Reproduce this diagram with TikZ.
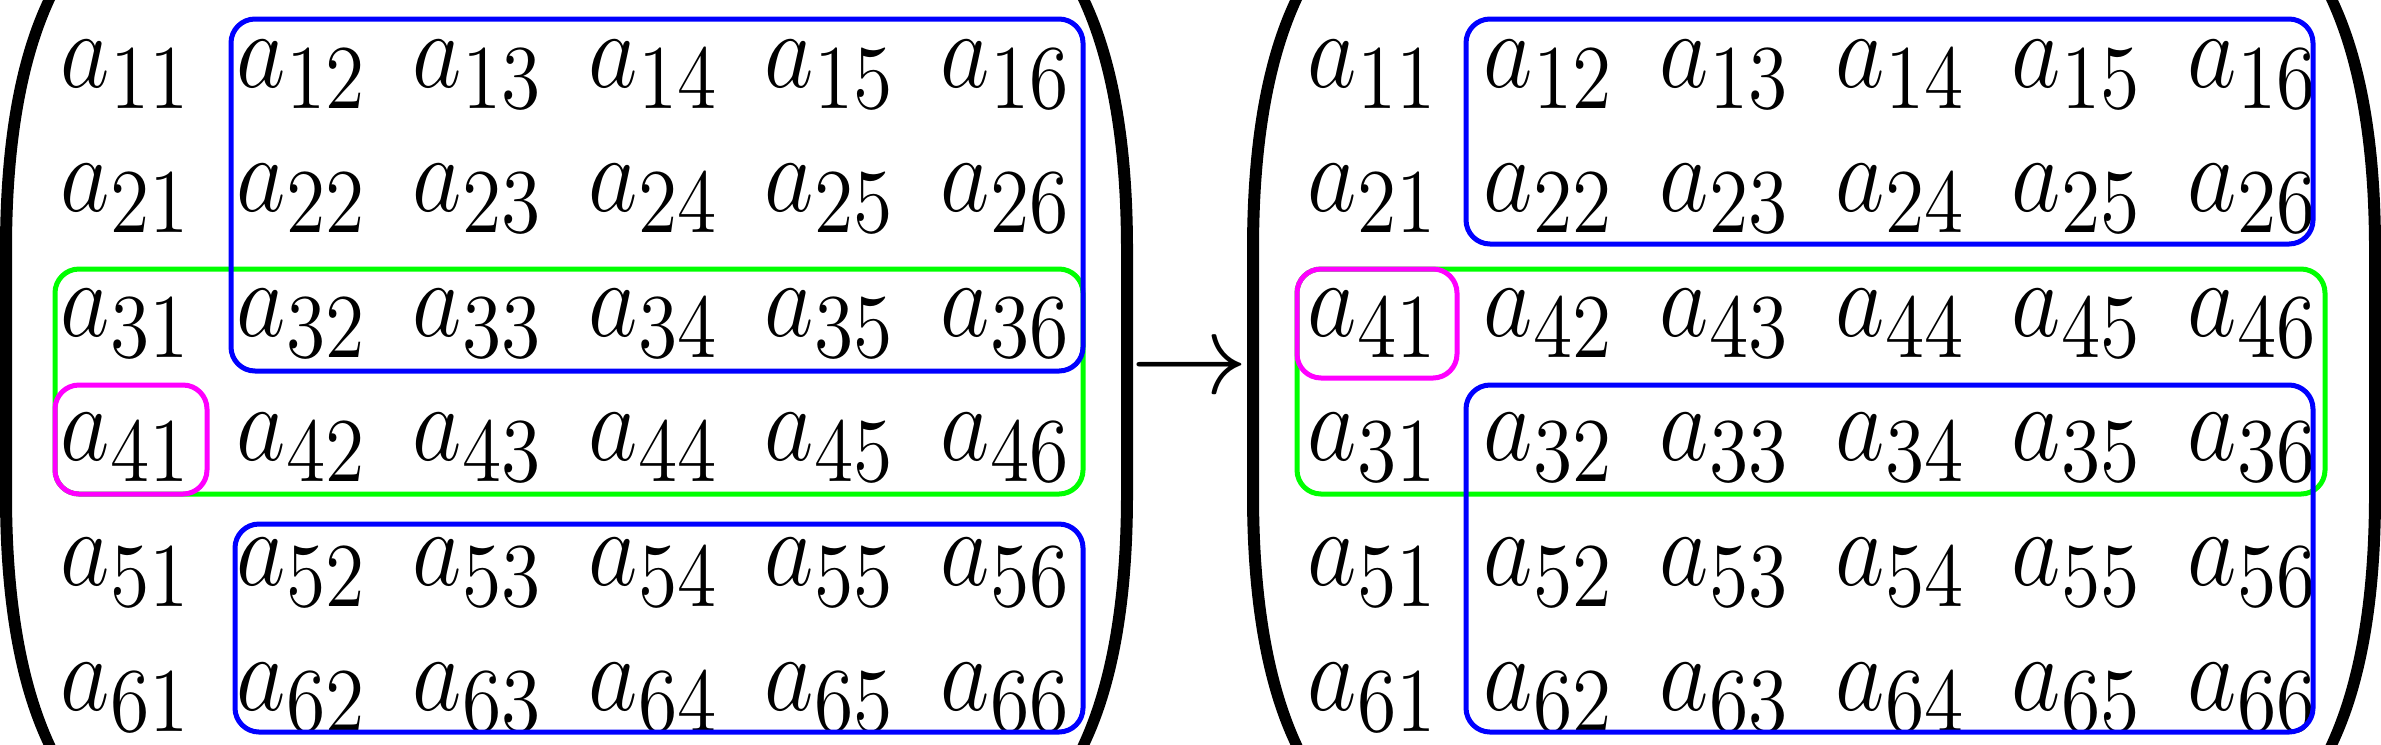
\documentclass[tikz,border=0pt]{standalone}
\usepackage{graphicx}
\DeclareMathSizes{14.4}{14.4}{12}{10}
\newcommand\aent[1]{\scalebox{1}[1.14]{$a_{#1}$}}
\newcommand\myparenpath{%
  \fill (57,-30) -- (43,0) .. controls (22,45) and (0,120) .. (0,250)
      -- (0,494) .. controls (0,624) and (22,699) .. (43,744) -- (57,774)
      -- (69,774) -- (55,744) .. controls (34,699) and (12,624) .. (12,494)
      -- (12,250) .. controls (12,120) and (34,45) .. (55,0) -- (69,-30) -- cycle;}
\definecolor{hlgreen}{RGB}{0,255,0}
\definecolor{hlblue}{RGB}{0,0,255}
\definecolor{hlmag}{RGB}{255,0,255}
\tikzset{
  ent/.style={anchor=base west, inner sep=0pt, font=\Large},
  hbox/.style={line width=0.75pt, rounded corners=3.6pt}
}
\begin{document}
\begin{tikzpicture}[x=0.15pt,y=-0.15pt]
\useasboundingbox (0,0) rectangle (2381,744);
% parentheses
\begin{scope}[shift={(0,0)}] \myparenpath \end{scope}
\begin{scope}[shift={(1133,0)},xscale=-1] \myparenpath \end{scope}
\begin{scope}[shift={(1247,0)}] \myparenpath \end{scope}
\begin{scope}[shift={(2381,0)},xscale=-1] \myparenpath \end{scope}
% left matrix entries
\foreach \r in {1,...,6}{
  \foreach \c in {1,...,6}{
    \node[ent] (L\r\c) at ({59.5+176*(\c-1)},{87+124.6*(\r-1)}) {\aent{\r\c}};
  }
}
% right matrix entries (rows 3 and 4 swapped)
\foreach \r/\s in {1/1,2/2,3/4,4/3,5/5,6/6}{
  \foreach \c in {1,...,6}{
    \node[ent] (R\r\c) at ({1306.5+176*(\c-1)},{87+124.6*(\r-1)}) {\aent{\s\c}};
  }
}
% arrow
\node[inner sep=0pt, font=\Large] (arr) at (1190,372) {\scalebox{1.23}[1.2]{$\rightarrow$}};
% left matrix boxes
\draw[hbox, hlgreen] (55,269) rectangle (1083,494);
\draw[hbox, hlblue] (231,19) rectangle (1083,371);
\draw[hbox, hlblue] (235,524) rectangle (1083,732);
\draw[hbox, hlmag] (55,385) rectangle (207,494);
% right matrix boxes
\draw[hbox, hlgreen] (1297,269) rectangle (2325,494);
\draw[hbox, hlblue] (1466,19) rectangle (2313,244);
\draw[hbox, hlblue] (1466,385) rectangle (2313,732);
\draw[hbox, hlmag] (1297,269) rectangle (1457,378);
\end{tikzpicture}
\end{document}
